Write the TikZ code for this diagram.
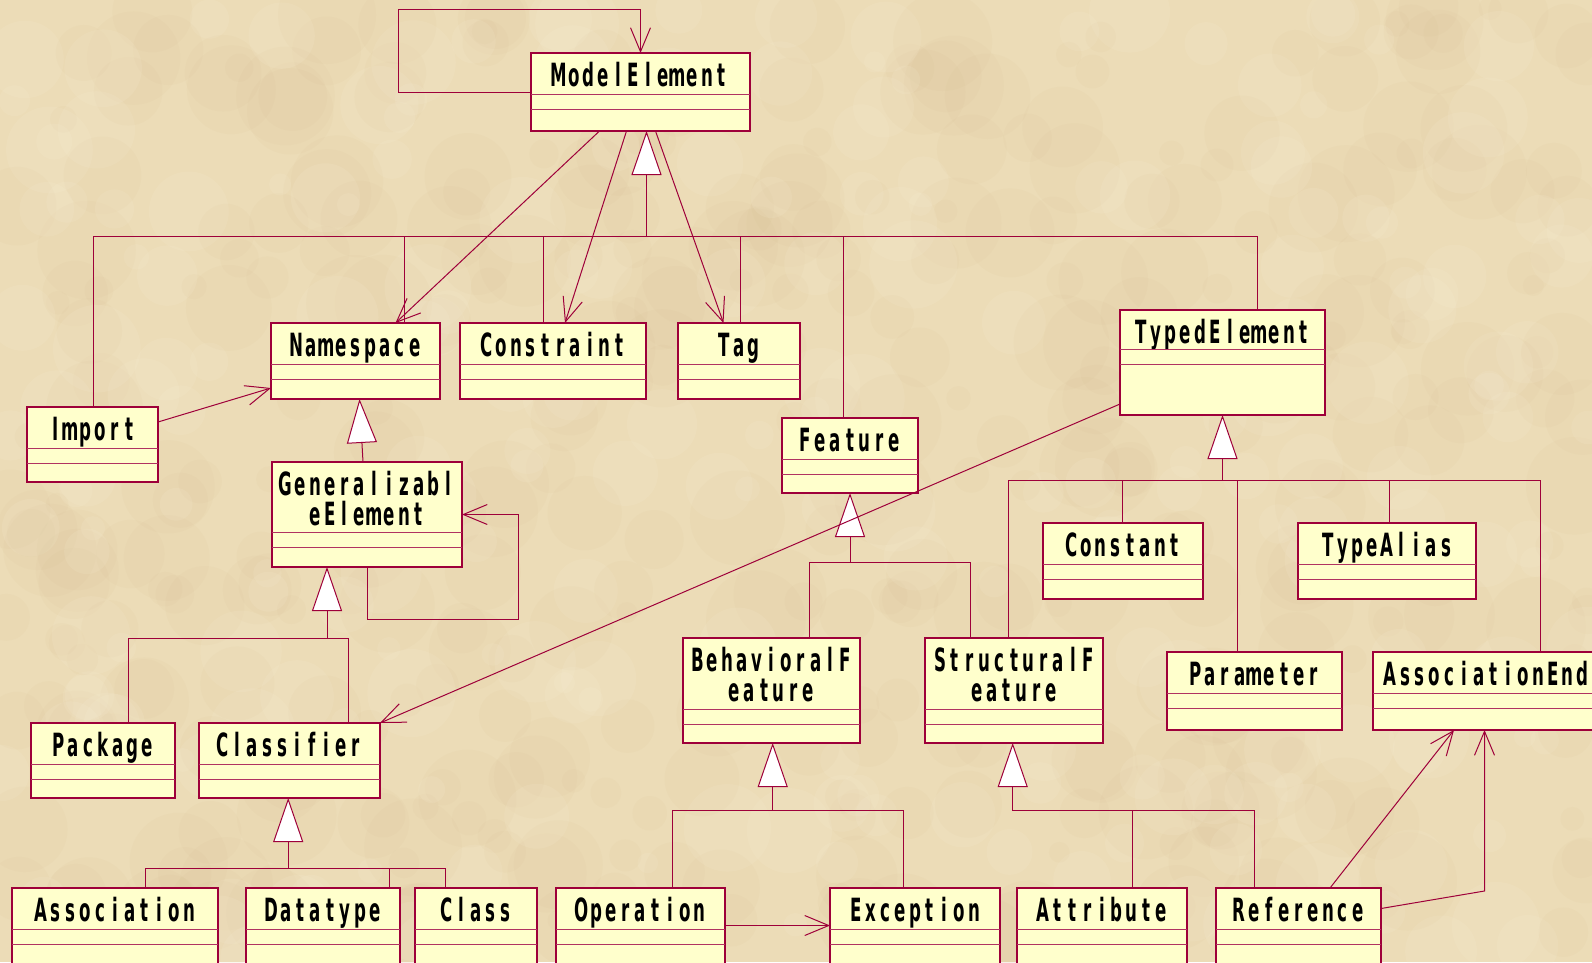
\documentclass[tikz,border=0pt]{standalone}
\usepackage{fontspec}
\usepackage{xcolor}
\usepackage{tikz}
\usetikzlibrary{calc, arrows.meta, positioning}

\newfontfamily\umlfont{DejaVu Sans}[FakeStretch=0.52]
\definecolor{umlred}{RGB}{158,0,58}
\definecolor{umlfill}{RGB}{255,255,204}
\definecolor{paper}{RGB}{236,220,183}
\definecolor{paperdark}{RGB}{206,176,128}
\definecolor{paperlight}{RGB}{250,241,218}

% every letter in a cell of its own, as in the printed boxes
\makeatletter
\newcommand\cells[1]{\rule{0pt}{24pt}\@tfor\umlch:=#1\do{\makebox[14.8pt]{\umlch}}}
\makeatother

\begin{document}
\begin{tikzpicture}[x=1pt, y=-1pt,
    classbox/.style={draw=umlred, fill=umlfill, line width=1.4pt, inner sep=0pt, outer sep=0pt},
    classname/.style={inner sep=0pt, align=center, font=\umlfont\bfseries\fontsize{32}{30}\selectfont},
    sepline/.style={draw=umlred!80, line width=0.9pt},
    uml/.style={draw=umlred, line width=1pt},
    gen/.style={uml, -{Triangle[fill=white, length=44pt, width=30pt]}},
    assoc/.style={uml, -{Straight Barb[length=24pt, width=20pt]}}]
    % 1. Nền
    \useasboundingbox (0,0) rectangle (1592,962);
    \clip (0,0) rectangle (1592,962);
    \fill[paper] (0,0) rectangle (1592,962);
    \pgfmathsetseed{12}
    \foreach \i in {1,...,400} {
        \pgfmathsetmacro\bx{rnd*1592}
        \pgfmathsetmacro\by{rnd*962}
        \pgfmathsetmacro\br{10+rnd*40}
        \fill[paperdark, opacity=0.06] (\bx,\by) circle (\br);
    }
    \foreach \i in {1,...,250} {
        \pgfmathsetmacro\bx{rnd*1592}
        \pgfmathsetmacro\by{rnd*962}
        \pgfmathsetmacro\br{10+rnd*35}
        \fill[paperlight, opacity=0.12] (\bx,\by) circle (\br);
    }

    % 2. Các lớp
    \foreach \nm/\xa/\ya/\xb/\yb/\hh/\txt in {
        modelel/531/53/750/131/41/{\cells{ModelElement}},
        namespace/271/323/440/399/41/{\cells{Namespace}},
        constraint/460/323/646/399/41/{\cells{Constraint}},
        tag/678/323/800/399/41/{\cells{Tag}},
        typedel/1120/310/1325/415/39/{\cells{TypedElement}},
        imp/27/407/158/482/41/{\cells{Import}},
        feature/782/418/918/493/41/{\cells{Feature}},
        genel/272/462/462/567/70/{\cells{Generalizabl}\\\cells{eElement}},
        constant/1043/523/1203/599/41/{\cells{Constant}},
        typealias/1298/523/1476/599/41/{\cells{TypeAlias}},
        parameter/1167/652/1342/730/41/{\cells{Parameter}},
        assocend/1373/652/1600/730/41/{\cells{AssociationEnd}},
        behfeat/683/638/860/743/71/{\cells{BehavioralF}\\\cells{eature}},
        strfeat/925/638/1103/743/71/{\cells{StructuralF}\\\cells{eature}},
        package/31/723/175/798/41/{\cells{Package}},
        classifier/199/723/380/798/41/{\cells{Classifier}},
        association/12/888/218/975/41/{\cells{Association}},
        datatype/246/888/400/975/41/{\cells{Datatype}},
        class/415/888/537/975/41/{\cells{Class}},
        operation/556/888/725/975/41/{\cells{Operation}},
        exception/830/888/1000/975/41/{\cells{Exception}},
        attribute/1017/888/1187/975/41/{\cells{Attribute}},
        reference/1216/888/1381/975/41/{\cells{Reference}}} {
        \node[classbox, anchor=north west, minimum width={(\xb-\xa)*1pt},
              minimum height={(\yb-\ya)*1pt}] (\nm) at (\xa,\ya) {};
        \node[classname, anchor=north] (\nm-txt) at ($(\nm.north)+(0,9)$) {\txt};
        \draw[sepline] ($(\nm.north west)+(0,\hh)$) -- ($(\nm.north east)+(0,\hh)$);
        \draw[sepline] ($(\nm.north west)+(0,\hh+15)$) -- ($(\nm.north east)+(0,\hh+15)$);
    }

    % 3. Kế thừa
    \coordinate (mj) at ($(modelel.south)+(6,105)$);
    \foreach \nd/\dx in {imp/1, namespace/49, constraint/-10, tag/1, feature/-6.5, typedel/34.5}
        \draw[uml] ($(\nd.north)+(\dx,0)$) |- (mj);
    \draw[gen] (mj) -- (mj |- modelel.south);

    \draw[gen] ($(genel.north)+(-4,0)$) -- ($(namespace.south)+(4,0)$);

    \coordinate (gj) at ($(genel.south)+(-40,71)$);
    \foreach \nd/\dx in {package/25, classifier/58.7}
        \draw[uml] ($(\nd.north)+(\dx,0)$) |- (gj);
    \draw[gen] (gj) -- (gj |- genel.south);

    \coordinate (cj) at ($(classifier.south)+(-1.3,70)$);
    \foreach \nd/\dx in {association/30, datatype/66.6, class/-31}
        \draw[uml] ($(\nd.north)+(\dx,0)$) |- (cj);
    \draw[gen] (cj) -- (cj |- classifier.south);

    \coordinate (fj) at ($(feature.south)+(0,69)$);
    \foreach \nd/\dx in {behfeat/37.8, strfeat/-44}
        \draw[uml] ($(\nd.north)+(\dx,0)$) |- (fj);
    \draw[gen] (fj) -- (fj |- feature.south);

    \coordinate (tj) at ($(typedel.south)+(0,65)$);
    \foreach \nd/\dx in {strfeat/-5.5, constant/-0.7, parameter/-16.8, typealias/2.7, assocend/53.5}
        \draw[uml] ($(\nd.north)+(\dx,0)$) |- (tj);
    \draw[gen] (tj) -- (tj |- typedel.south);

    \coordinate (bj) at ($(behfeat.south)+(1.2,67.5)$);
    \foreach \nd/\dx in {operation/31.5, exception/-11.7}
        \draw[uml] ($(\nd.north)+(\dx,0)$) |- (bj);
    \draw[gen] (bj) -- (bj |- behfeat.south);

    \coordinate (sj) at ($(strfeat.south)+(-1.3,67.5)$);
    \foreach \nd/\dx in {attribute/30.7, reference/-43.8}
        \draw[uml] ($(\nd.north)+(\dx,0)$) |- (sj);
    \draw[gen] (sj) -- (sj |- strfeat.south);

    % 4. Liên kết
    \draw[assoc] (modelel.west) -| ++(-133,-83) -| (modelel.north);
    \draw[assoc] (genel.south) |- ++(151,52) |- (genel.east);
    \draw[assoc] ($(modelel.south)+(-41,0)$) -- ($(namespace.north)+(40,0)$);
    \draw[assoc] ($(modelel.south)+(-14,0)$) -- ($(constraint.north)+(12,0)$);
    \draw[assoc] ($(modelel.south)+(15,0)$) -- ($(tag.north)+(-15.5,0)$);
    \draw[assoc] ($(imp.east)+(0,-22.5)$) -- ($(namespace.west)+(0,27)$);
    \draw[assoc] ($(typedel.west)+(0,41.5)$) -- (classifier.north east);
    \draw[assoc] ($(operation.east)+(0,-6)$) -- ($(exception.west)+(0,-6)$);
    \draw[assoc] ($(reference.north)+(31.5,0)$) -- ($(assocend.south)+(-32.5,0)$);
    \draw[assoc] ($(reference.east)+(0,-23)$) -- ($(assocend.south)+(-2,161)$) -- ($(assocend.south)+(-2,0)$);
\end{tikzpicture}
\end{document}
